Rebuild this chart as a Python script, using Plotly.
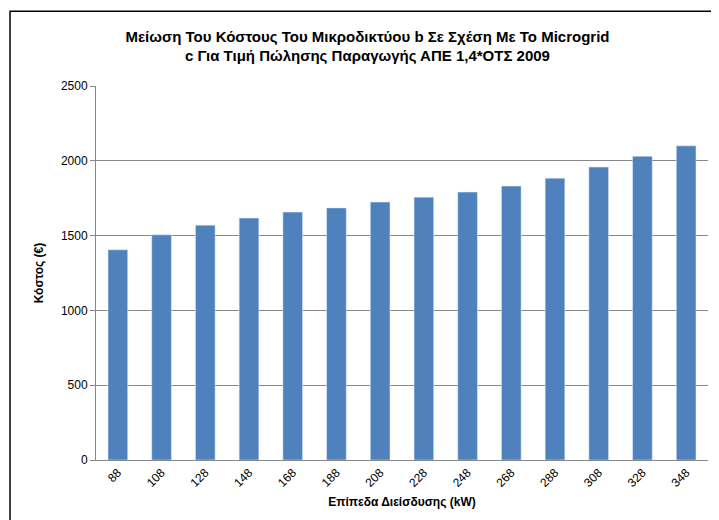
import plotly.graph_objects as go

levels = ["88", "108", "128", "148", "168", "188", "208", "228", "248", "268", "288", "308", "328", "348"]
costs = [1405, 1505, 1570, 1617, 1657, 1685, 1724, 1757, 1791, 1831, 1884, 1958, 2030, 2100]

fig = go.Figure(go.Bar(x=levels, y=costs, marker_color="#4f81bd", width=0.45))

fig.update_layout(
    width=719, height=520,
    paper_bgcolor="white", plot_bgcolor="white",
    font=dict(family="Liberation Sans, Arial", size=12, color="black"),
    title=dict(text="<b>Μείωση Του Κόστους Του Μικροδικτύου b Σε Σχέση Με Το Microgrid<br>c Για Τιμή Πώλησης Παραγωγής ΑΠΕ 1,4*ΟΤΣ 2009</b>",
               x=0.5, xanchor="center", y=0.935, yanchor="middle", font=dict(size=15)),
    margin=dict(l=88, r=19, t=78, b=68),
    showlegend=False,
    bargap=0.55,
)
fig.update_xaxes(
    automargin=False, tickangle=-45, showline=True, linecolor="#888",
    title=dict(text="<b>Επίπεδα Διείσδυσης (kW)</b>", font=dict(size=12), standoff=8),
)
fig.update_yaxes(
    automargin=False, range=[0, 2500], dtick=500, showgrid=True, gridcolor="#888", gridwidth=1,
    showline=True, linecolor="#888", ticks="outside", tickcolor="#888",
    title=dict(text="<b>Κόστος (€)</b>", font=dict(size=12), standoff=14),
)
fig.add_shape(type="rect", xref="paper", yref="paper", x0=-0.1405, x1=1.026, y0=-0.172, y1=1.2,
              line=dict(color="black", width=1.5))

fig.write_html("out.html")
